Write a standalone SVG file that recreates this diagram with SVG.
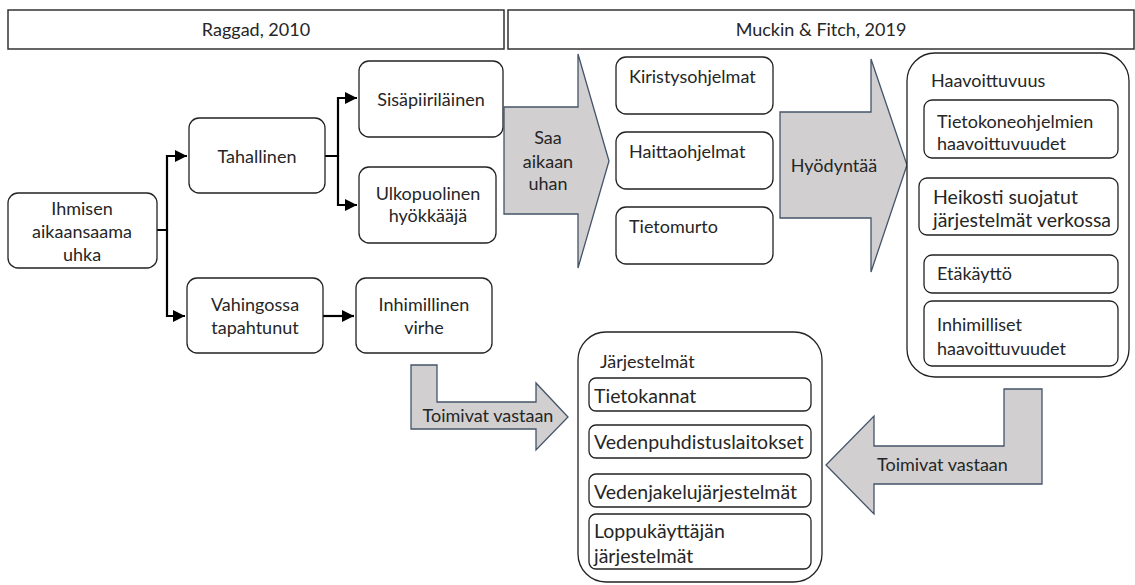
<svg xmlns="http://www.w3.org/2000/svg" width="1135" height="585" viewBox="0 0 1135 585">
<style>
text{font-family:Lato,"Liberation Sans",sans-serif;font-size:18px;fill:#262626}
.c{text-anchor:middle}
.l{font-size:19.5px}
.box{fill:#fff;stroke:#222;stroke-width:1.3}
.hdr{fill:#fff;stroke:#333;stroke-width:1.5}
.big{fill:#d1cfcf;stroke:#44546a;stroke-width:1.3}
.con{fill:none;stroke:#000;stroke-width:2.2}
</style>
<defs>
<marker id="ah" viewBox="0 0 10 10" refX="10" refY="5" markerWidth="12" markerHeight="12" markerUnits="userSpaceOnUse" orient="auto">
<path d="M0,0 L10,5 L0,10 z" fill="#000"/>
</marker>
</defs>
<g id="header">
<rect class="hdr" x="8" y="10" width="496" height="39"/>
<rect class="hdr" x="508" y="10" width="626" height="39"/>
<text class="c" x="256" y="36">Raggad, 2010</text>
<text class="c" x="821" y="36">Muckin &amp; Fitch, 2019</text>
</g>
<g id="connectors">
<path class="con" d="M157,230 H167 V156 H187" marker-end="url(#ah)"/>
<path class="con" d="M167,230 V316 H185" marker-end="url(#ah)"/>
<path class="con" d="M325,156 H338 V98 H357" marker-end="url(#ah)"/>
<path class="con" d="M338,156 V205 H357" marker-end="url(#ah)"/>
<path class="con" d="M323,316 H354" marker-end="url(#ah)"/>
</g>
<g id="n-ihmisen">
<rect class="box" x="8" y="193" width="149" height="75" rx="10"/>
<text class="c" x="82" y="215">Ihmisen</text>
<text class="c" x="82" y="238">aikaansaama</text>
<text class="c" x="82" y="261">uhka</text>
</g>
<g id="n-tahallinen">
<rect class="box" x="189" y="118" width="136" height="75" rx="10"/>
<text class="c" x="257" y="163">Tahallinen</text>
</g>
<g id="n-sisapiirilainen">
<rect class="box" x="359" y="61" width="144" height="76" rx="10"/>
<text class="c" x="431" y="106">Sisäpiiriläinen</text>
</g>
<g id="n-ulkopuolinen">
<rect class="box" x="359" y="167" width="137" height="76" rx="10"/>
<text class="c" x="428" y="200">Ulkopuolinen</text>
<text class="c" x="428" y="222">hyökkääjä</text>
</g>
<g id="n-vahingossa">
<rect class="box" x="187" y="278" width="136" height="75" rx="10"/>
<text class="c" x="255" y="311">Vahingossa</text>
<text class="c" x="255" y="334">tapahtunut</text>
</g>
<g id="n-inhimillinen">
<rect class="box" x="356" y="278" width="136" height="75" rx="10"/>
<text class="c" x="424" y="311">Inhimillinen</text>
<text class="c" x="424" y="334">virhe</text>
</g>
<g id="a-saa">
<path class="big" d="M504,107 L578,107 L578,54 L609,161 L578,268 L578,214 L504,214 Z"/>
<text class="c" x="548" y="144">Saa</text>
<text class="c" x="548" y="168">aikaan</text>
<text class="c" x="548" y="190">uhan</text>
</g>
<g id="n-kiristys">
<rect class="box" x="616" y="57" width="157" height="57" rx="10"/>
<text x="629" y="83">Kiristysohjelmat</text>
</g>
<g id="n-haitta">
<rect class="box" x="616" y="132" width="157" height="57" rx="10"/>
<text x="629" y="158">Haittaohjelmat</text>
</g>
<g id="n-tietomurto">
<rect class="box" x="616" y="207" width="157" height="57" rx="10"/>
<text x="629" y="233">Tietomurto</text>
</g>
<g id="a-hyodyntaa">
<path class="big" d="M780,112 L871,112 L871,59 L907,165 L871,272 L871,218 L780,218 Z"/>
<text class="c" x="834" y="172">Hyödyntää</text>
</g>
<g id="n-haavoittuvuus">
<rect class="box" x="907" y="53" width="222" height="324" rx="28"/>
<text x="931" y="87">Haavoittuvuus</text>
<rect class="box" x="924" y="100" width="194" height="58" rx="8"/>
<text x="937" y="128">Tietokoneohjelmien</text>
<text x="937" y="150">haavoittuvuudet</text>
<rect class="box" x="919" y="178" width="199" height="57" rx="8"/>
<text class="l" x="933" y="204">Heikosti suojatut</text>
<text class="l" x="933" y="227">järjestelmät verkossa</text>
<rect class="box" x="924" y="255" width="194" height="38" rx="8"/>
<text x="937" y="280">Etäkäyttö</text>
<rect class="box" x="924" y="301" width="194" height="65" rx="8"/>
<text x="937" y="331">Inhimilliset</text>
<text x="937" y="355">haavoittuvuudet</text>
</g>
<g id="a-toimivat1">
<path class="big" d="M411,365 L437,365 L437,402 L536,402 L536,383 L568,417 L536,450 L536,429 L411,429 Z"/>
<text class="c" x="488" y="422">Toimivat vastaan</text>
</g>
<g id="n-jarjestelmat">
<rect class="box" x="578" y="332" width="244" height="250" rx="28"/>
<text x="600" y="368">Järjestelmät</text>
<rect class="box" x="589" y="378" width="222" height="33" rx="7"/>
<text class="l" x="594" y="403">Tietokannat</text>
<rect class="box" x="589" y="425" width="222" height="33" rx="7"/>
<text class="l" x="594" y="449">Vedenpuhdistuslaitokset</text>
<rect class="box" x="589" y="474" width="222" height="33" rx="7"/>
<text class="l" x="594" y="499">Vedenjakelujärjestelmät</text>
<rect class="box" x="589" y="514" width="222" height="55" rx="7"/>
<text class="l" x="594" y="538">Loppukäyttäjän</text>
<text class="l" x="594" y="563">järjestelmät</text>
</g>
<g id="a-toimivat2">
<path class="big" d="M1004,389 L1042,389 L1042,484 L874,484 L874,514 L826,465 L874,416 L874,446 L1004,446 Z"/>
<text x="877" y="471">Toimivat vastaan</text>
</g>
</svg>
